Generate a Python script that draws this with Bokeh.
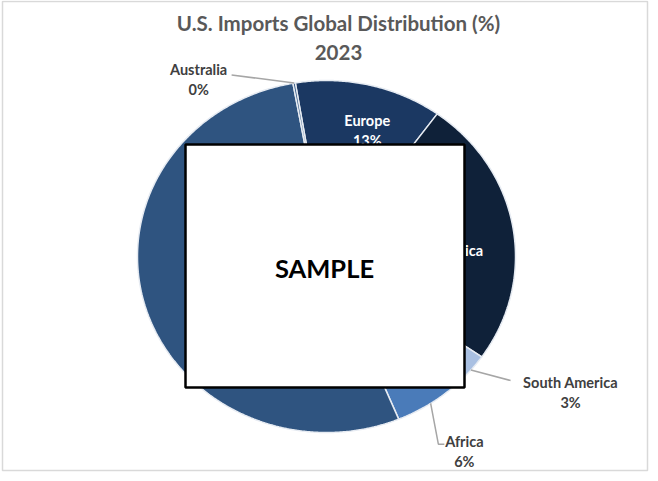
import numpy as np
from bokeh.plotting import figure
from bokeh.models import Range1d, ColumnDataSource
from bokeh.core.properties import value
from bokeh.embed import file_html
from bokeh.resources import INLINE

# ---- data ----
regions = ["Europe", "North America", "South America", "Africa", "Asia", "Australia"]
shares = [12.6, 24.7, 3.0, 6.1, 53.4, 0.2]
title_lines = ["U.S. Imports Global Distribution (%)", "2023"]

# ---- styles / layout ----
colors = {"Europe": "#1b3862", "North America": "#0f2139", "South America": "#a9c0e2",
          "Africa": "#4a7bb9", "Asia": "#2f5480", "Australia": "#2f5480"}
FONT = "Lato"
W, H = 650, 473
CX, CY, RX, RY = 326, 256, 189, 176
START = -9.5  # degrees clockwise from 12 o'clock
LBL_SIZE = "14.5px"
GAP = 10

inside = {"Europe": (16.7, 0.75), "North America": (92.0, 0.58), "Asia": (None, 0.60)}
outside = {  # label angle, radius factor, leader elbow offset, leader end offset
    "Australia": (326.0, 1.21, (33, -5), (33, -5)),
    "South America": (120.9, 1.505, (-60, -12), (-60, -12)),
    "Africa": (146.6, 1.325, (-26, -7), (-20, -7)),
}

def pt(ang, r=1.0):
    a = np.radians(ang)
    return CX + RX * r * np.sin(a), CY - RY * r * np.cos(a)

p = figure(width=W, height=H, x_range=Range1d(0, W), y_range=Range1d(H, 0),
           output_backend="svg", toolbar_location=None, min_border=0,
           x_axis_type=None, y_axis_type=None)
p.grid.visible = False
p.outline_line_color = None
p.background_fill_color = "white"
p.border_fill_color = "white"

# chart-area frame
p.quad(left=[2], right=[647], top=[1], bottom=[470], fill_color=None,
       line_color="#d9d9d9", line_width=1.5)

# slices
cum = START + np.concatenate([[0], np.cumsum(np.array(shares) / 100 * 360)])
xs, ys, fc, mids = [], [], [], []
for i, reg in enumerate(regions):
    a0, a1 = cum[i], cum[i + 1]
    angs = np.linspace(a0, a1, max(3, int(abs(a1 - a0) * 2) + 2))
    px, py = pt(angs)
    xs.append([CX] + list(px))
    ys.append([CY] + list(py))
    fc.append(colors[reg])
    mids.append((a0 + a1) / 2)
src = ColumnDataSource(dict(xs=xs, ys=ys, fc=fc))
p.patches("xs", "ys", source=src, fill_color="fc", line_color="#e6ebf2", line_width=1.5)

pct = [f"{round(s)}%" for s in shares]

# inside labels
for reg, (ang, r) in inside.items():
    i = regions.index(reg)
    a = mids[i] if ang is None else ang
    x, y = pt(a, r)
    p.text(x=[x, x], y=[y - GAP, y + GAP], text=[reg, pct[i]], text_align="center",
           text_baseline="middle", text_color="white", text_font=value(FONT),
           text_font_size=LBL_SIZE, text_font_style="bold")

# outside labels + leader lines
lx_all, ly_all = [], []
for reg, (ang, r, elbow, end) in outside.items():
    i = regions.index(reg)
    x, y = pt(ang, r)
    p.text(x=[x, x], y=[y - GAP, y + GAP], text=[reg, pct[i]], text_align="center",
           text_baseline="middle", text_color="#404040", text_font=value(FONT),
           text_font_size=LBL_SIZE, text_font_style="bold")
    sx, sy = pt(mids[i])
    lx_all.append([sx, x + elbow[0], x + end[0]])
    ly_all.append([sy, y + elbow[1], y + end[1]])
p.multi_line(xs=lx_all, ys=ly_all, line_color="#a6a6a6", line_width=1.5)

# title
p.text(x=[338, 338], y=[22, 52], text=title_lines, text_align="center", text_baseline="middle",
       text_color="#595959", text_font=value(FONT), text_font_size="20.5px", text_font_style="bold")

# SAMPLE overlay box
p.quad(left=[185], right=[464], top=[144], bottom=[387], fill_color="white",
       line_color="black", line_width=2.5)
p.text(x=[324], y=[267], text=["SAMPLE"], text_align="center", text_baseline="middle",
       text_color="black", text_font=value(FONT), text_font_size="25.5px", text_font_style="bold")

open("out.html", "w").write(file_html(p, INLINE))
